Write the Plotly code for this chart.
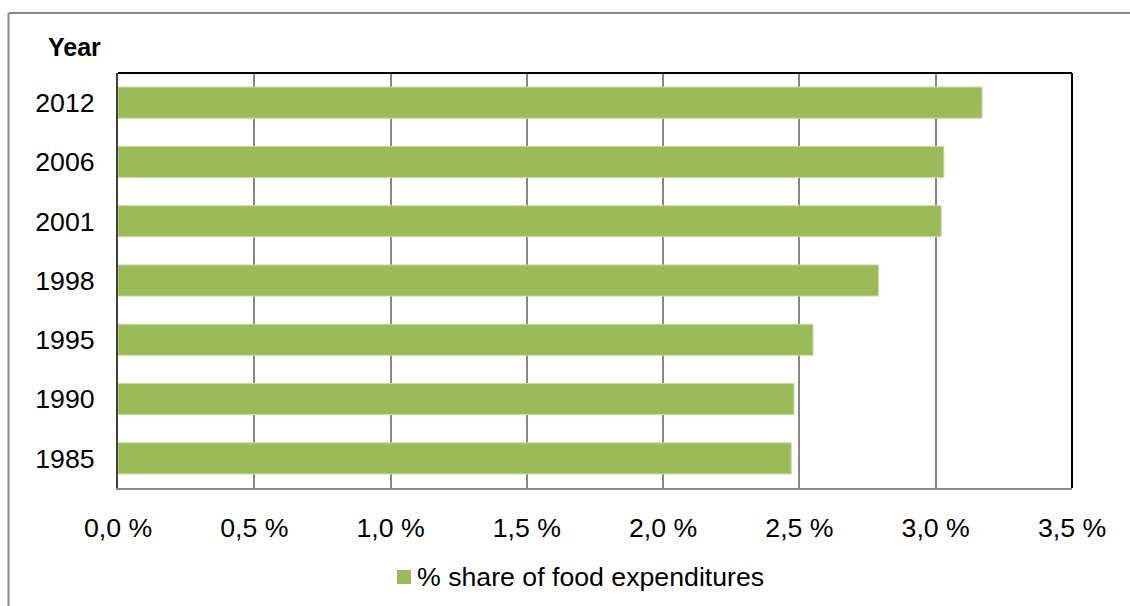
import plotly.graph_objects as go

# Share of food expenditures by survey year (%)
years = ["1985", "1990", "1995", "1998", "2001", "2006", "2012"]
share = [2.47, 2.48, 2.55, 2.79, 3.02, 3.03, 3.17]

tick_vals = [0.0, 0.5, 1.0, 1.5, 2.0, 2.5, 3.0, 3.5]
tick_text = ["0,0 %", "0,5 %", "1,0 %", "1,5 %", "2,0 %", "2,5 %", "3,0 %", "3,5 %"]

series_name = "% share of food expenditures"

W, H = 1130, 606
L, R, T, B = 118, 58, 73, 118
FONT = "Arial, Liberation Sans, sans-serif"
GREEN = "#9BBB59"
TEXT_SIZE = 26.7


def px_x(x):
    return (x - L) / (W - L - R)


def px_y(y):
    return 1 - (y - T) / (H - T - B)


fig = go.Figure()
fig.add_trace(go.Bar(
    y=years,
    x=share,
    orientation="h",
    name=series_name,
    marker=dict(color=GREEN, line=dict(color="#C9DCA6", width=1)),
    showlegend=False,
))

fig.update_layout(
    width=W,
    height=H,
    margin=dict(l=L, r=R, t=T, b=B),
    paper_bgcolor="white",
    plot_bgcolor="white",
    font=dict(family=FONT, size=TEXT_SIZE, color="#000000"),
    bargap=0.475,
    showlegend=False,
    xaxis=dict(
        range=[0, 3.5],
        tickvals=tick_vals,
        ticktext=tick_text,
        showgrid=True,
        gridcolor="#878787",
        gridwidth=1.5,
        zeroline=False,
        showline=True,
        linecolor="#878787",
        linewidth=2,
        ticks="",
        ticklabelstandoff=15,
        fixedrange=True,
    ),
    yaxis=dict(
        type="category",
        categoryorder="array",
        categoryarray=years,
        range=[-0.5, len(years) - 0.5],
        showgrid=False,
        zeroline=False,
        showline=True,
        linecolor="#404040",
        linewidth=2,
        ticks="",
        ticklabelstandoff=16,
        fixedrange=True,
    ),
    shapes=[
        # top and right edges of the plot frame
        dict(type="line", xref="paper", yref="paper", x0=0, x1=1, y0=1, y1=1,
             line=dict(color="#000000", width=2)),
        dict(type="line", xref="paper", yref="paper", x0=1, x1=1, y0=0, y1=1,
             line=dict(color="#000000", width=2)),
        # outer chart border (top and left)
        dict(type="line", xref="paper", yref="paper",
             x0=px_x(8.5), x1=px_x(W + 5), y0=px_y(13), y1=px_y(13),
             line=dict(color="#878787", width=2)),
        dict(type="line", xref="paper", yref="paper",
             x0=px_x(8.5), x1=px_x(8.5), y0=px_y(13), y1=px_y(H + 5),
             line=dict(color="#878787", width=2)),
        # legend swatch
        dict(type="rect", xref="paper", yref="paper",
             x0=px_x(397), x1=px_x(411), y0=px_y(584), y1=px_y(570),
             fillcolor=GREEN, line=dict(width=0)),
    ],
    annotations=[
        dict(text="<b>Year</b>", xref="paper", yref="paper",
             x=px_x(46), y=px_y(47), xanchor="left", yanchor="middle",
             showarrow=False, font=dict(family=FONT, size=25, color="#000000")),
        dict(text=series_name, xref="paper", yref="paper",
             x=px_x(415), y=px_y(577), xanchor="left", yanchor="middle",
             showarrow=False, font=dict(family=FONT, size=TEXT_SIZE, color="#000000")),
    ],
)

fig.write_html("out.html")
